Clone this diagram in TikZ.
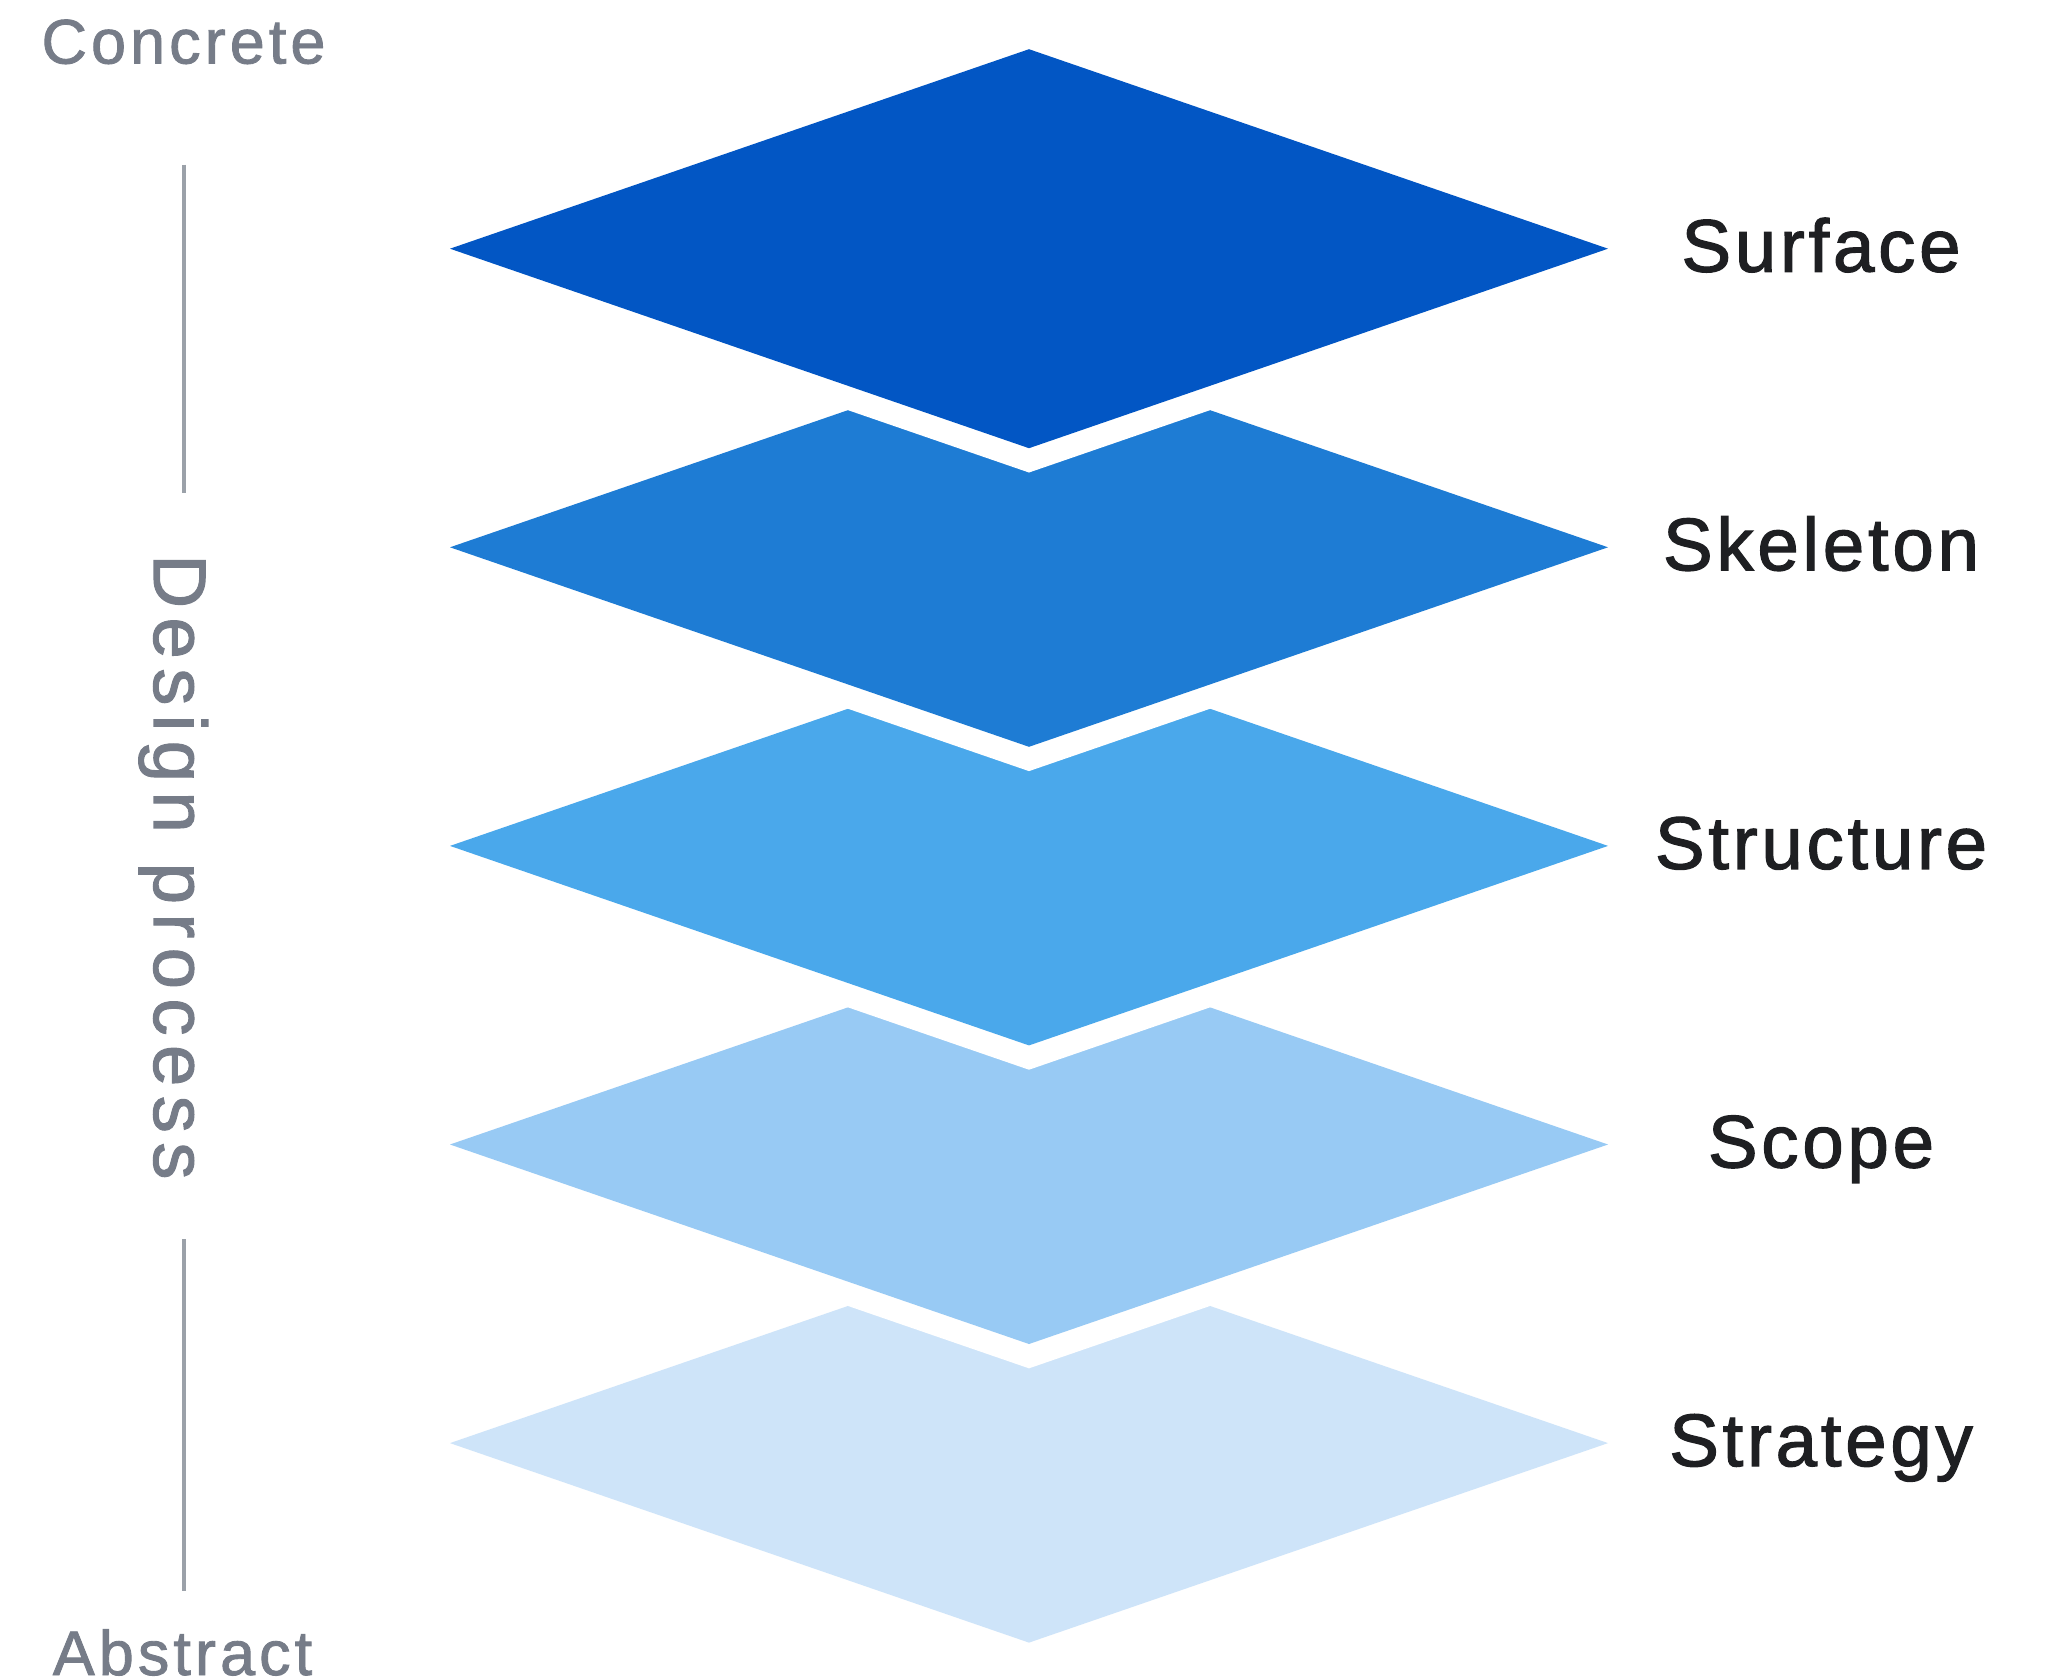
\documentclass[tikz,border=0pt]{standalone}
\usepackage{fontspec}
\setmainfont{Liberation Sans}
\newfontfamily\layerfont[LetterSpace=5,FakeBold=1.6]{Liberation Sans}
\newfontfamily\sidefont[LetterSpace=6.5,FakeBold=1.4]{Liberation Sans}
\newfontfamily\procfont[LetterSpace=12.5,FakeBold=1.4]{Liberation Sans}
\usetikzlibrary{shapes.geometric,positioning}

\definecolor{surfaceblue}{HTML}{0256C4}
\definecolor{skeletonblue}{HTML}{1E7CD4}
\definecolor{structureblue}{HTML}{4AA8EB}
\definecolor{scopeblue}{HTML}{98CAF4}
\definecolor{strategyblue}{HTML}{CEE4F9}
\definecolor{labeltext}{HTML}{1E1F22}
\definecolor{sidegrey}{HTML}{767C88}
\definecolor{axisgrey}{HTML}{9BA1A9}

\begin{document}
\begin{tikzpicture}[
  node distance=-1.004cm,
  layer/.style={diamond, minimum width=11.58cm, minimum height=3.99cm, inner sep=0pt, outer sep=0pt,
    preaction={draw=white, line width=0.46cm, line join=miter}},
  lbl/.style={anchor=base, text=labeltext, font=\layerfont\fontsize{21.2pt}{25pt}\selectfont},
  side/.style={anchor=base, text=sidegrey, font=\sidefont\fontsize{17.9pt}{21pt}\selectfont},
  axis/.style={draw=axisgrey, line width=0.04cm}
]
\useasboundingbox (0,0) rectangle (20.49,-16.80);

% layers, bottom one first so each one covers the one below
\node[layer, fill=strategyblue] (strategy) at (10.29,-14.431) {};
\node[layer, fill=scopeblue, above=of strategy] (scope) {};
\node[layer, fill=structureblue, above=of scope] (structure) {};
\node[layer, fill=skeletonblue, above=of structure] (skeleton) {};
\node[layer, fill=surfaceblue, above=of skeleton] (surface) {};

\node[lbl] (surfacelbl) at ([xshift=2.13cm, yshift=-0.23cm]surface.east) {Surface};
\node[lbl] (skeletonlbl) at ([xshift=2.13cm, yshift=-0.23cm]skeleton.east) {Skeleton};
\node[lbl] (structurelbl) at ([xshift=2.13cm, yshift=-0.23cm]structure.east) {Structure};
\node[lbl] (scopelbl) at ([xshift=2.13cm, yshift=-0.23cm]scope.east) {Scope};
\node[lbl] (strategylbl) at ([xshift=2.13cm, yshift=-0.23cm]strategy.east) {Strategy};

% scale on the left
\node[side] (concrete) at (1.835,-0.635) {Concrete};
\node[side] (abstract) at (1.825,-16.75) {Abstract};
\node[side, font=\procfont\fontsize{21.2pt}{25pt}\selectfont, rotate=-90, inner sep=0pt] (design) at (1.54,-8.67) {Design process};
\draw[axis, shorten <=1.011cm, shorten >=0.61cm] (concrete.base) -- (concrete.base |- design.west);
\draw[axis, shorten <=0.59cm, shorten >=0.843cm] (concrete.base |- design.east) -- (concrete.base |- abstract.base);
\end{tikzpicture}
\end{document}
